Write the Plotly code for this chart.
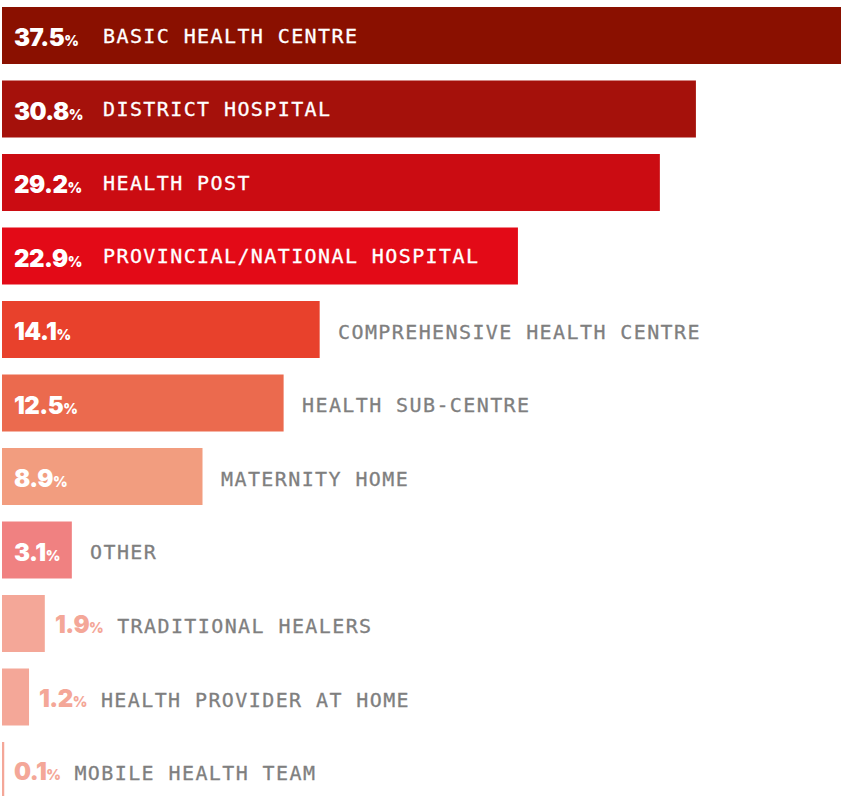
import plotly.graph_objects as go

# share of respondents by place of care (%)
categories = ["BASIC HEALTH CENTRE", "DISTRICT HOSPITAL", "HEALTH POST",
              "PROVINCIAL/NATIONAL HOSPITAL", "COMPREHENSIVE HEALTH CENTRE",
              "HEALTH SUB-CENTRE", "MATERNITY HOME", "OTHER",
              "TRADITIONAL HEALERS", "HEALTH PROVIDER AT HOME", "MOBILE HEALTH TEAM"]
values = [37.5, 30.8, 29.2, 22.9, 14.1, 12.5, 8.9, 3.1, 1.9, 1.2, 0.1]

bar_colors = ["#8a1000", "#a5110b", "#cb0c12", "#e30a17", "#e8412c", "#eb6a4e",
              "#f29d7f", "#f08181", "#f4a798", "#f4a798", "#f4a798"]

PCT_FONT = "font-family:Inter;font-weight:900;font-size:24px;letter-spacing:-0.5px"
PCT_SIGN = "font-family:Inter;font-weight:900;font-size:14px"
LBL_FONT = "font-family:'DejaVu Sans Mono';font-size:20px;letter-spacing:1.4px;stroke-width:0.3px"
GREY = "#7f7f7f"
SALMON = "#f4a798"

ypos = list(range(len(values)))

fig = go.Figure()
fig.add_trace(go.Bar(
    x=values, y=ypos, orientation="h",
    marker=dict(color=bar_colors, line=dict(width=0)),
    width=0.776, hoverinfo="skip"
))


def pct_html(v, color):
    return (f"<span style=\"{PCT_FONT};color:{color}\">{v}</span>"
            f"<span style=\"{PCT_SIGN};color:{color}\">%</span>")


def label_html(cat, color, lead=""):
    return f"<span style=\"{LBL_FONT};color:{color};stroke:{color}\">{lead}{cat}</span>"


annotations = []
for i, (cat, v) in enumerate(zip(categories, values)):
    if v >= 20:
        # number and label both inside the bar
        annotations.append(dict(x=0, y=i, xanchor="left", xshift=10, yshift=-2,
                                text=pct_html(v, "white")))
        annotations.append(dict(x=0, y=i, xanchor="left", xshift=99,
                                text=label_html(cat, "white")))
    elif v >= 3:
        # number inside, label after the bar
        annotations.append(dict(x=0, y=i, xanchor="left", xshift=10, yshift=-2,
                                text=pct_html(v, "white")))
        annotations.append(dict(x=v, y=i, xanchor="left", xshift=16, yshift=-2,
                                text=label_html(cat, GREY)))
    else:
        # tiny bars: number and label after the bar
        annotations.append(dict(x=v, y=i, xanchor="left", xshift=8, yshift=-1,
                                text=pct_html(v, SALMON) + label_html(cat, GREY, " ")))

for a in annotations:
    a.update(xref="x", yref="y", yanchor="middle", showarrow=False)

fig.update_layout(
    width=841, height=796,
    margin=dict(l=2, r=0, t=0, b=0),
    plot_bgcolor="white", paper_bgcolor="white",
    showlegend=False,
    annotations=annotations,
    xaxis=dict(range=[0, 37.24], visible=False, fixedrange=True),
    yaxis=dict(range=[10.347, -0.483], visible=False, fixedrange=True),
)

fig.write_html("out.html", config={"displayModeBar": False},
               post_script="document.body.style.margin='0';")
